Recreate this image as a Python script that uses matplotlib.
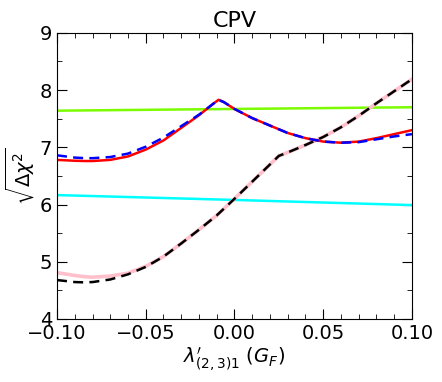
import numpy as np
import matplotlib
matplotlib.use('Agg')
import matplotlib.pyplot as plt
from matplotlib.ticker import MultipleLocator

# values
x_red = [-0.100, -0.090, -0.084, -0.080, -0.070, -0.060, -0.050, -0.040, -0.030, -0.020, -0.012,
         -0.009, -0.006, 0.000, 0.010, 0.020, 0.030, 0.040, 0.050, 0.060, 0.070, 0.080, 0.090, 0.100]
y_red = [6.78, 6.765, 6.76, 6.76, 6.78, 6.84, 6.96, 7.12, 7.34, 7.56, 7.76,
         7.83, 7.79, 7.67, 7.51, 7.38, 7.25, 7.16, 7.10, 7.08, 7.10, 7.16, 7.23, 7.30]
y_blue = [6.86, 6.82, 6.81, 6.81, 6.83, 6.89, 7.01, 7.17, 7.37, 7.57, 7.76,
          7.83, 7.79, 7.67, 7.51, 7.38, 7.25, 7.16, 7.10, 7.08, 7.09, 7.14, 7.19, 7.23]

x_black = [-0.100, -0.090, -0.085, -0.080, -0.070, -0.060, -0.050, -0.040, -0.030, -0.020, -0.010,
           0.000, 0.010, 0.020, 0.025, 0.030, 0.040, 0.050, 0.060, 0.070, 0.080, 0.090, 0.100]
y_black = [4.68, 4.645, 4.64, 4.645, 4.69, 4.78, 4.91, 5.09, 5.32, 5.56, 5.81,
           6.10, 6.40, 6.70, 6.85, 6.91, 7.04, 7.18, 7.35, 7.55, 7.77, 7.98, 8.19]
y_pink = [4.81, 4.76, 4.74, 4.73, 4.75, 4.80, 4.92, 5.09, 5.32, 5.56, 5.81,
          6.10, 6.40, 6.70, 6.85, 6.91, 7.04, 7.18, 7.35, 7.55, 7.77, 7.98, 8.19]

x_flat = [-0.100, 0.000, 0.100]
y_green = [7.64, 7.67, 7.70]
y_cyan = [6.165, 6.08, 5.99]

fig = plt.figure(figsize=(4.42, 3.82), dpi=100)
ax = fig.add_axes([0.129, 0.165, 0.803, 0.749])

ax.plot(x_flat, y_green, color='lawngreen', lw=1.8)
ax.plot(x_flat, y_cyan, color='cyan', lw=1.8)
ax.plot(x_black, y_pink, color='pink', lw=2.6)
ax.plot(x_black, y_black, color='black', lw=1.8, ls='--', dashes=(4, 2.5))
ax.plot(x_red, y_red, color='red', lw=1.8)
ax.plot(x_red, y_blue, color='blue', lw=1.8, ls='--', dashes=(4, 2.5))

ax.set_xlim(-0.1, 0.1)
ax.set_ylim(4, 9)
ax.xaxis.set_major_locator(MultipleLocator(0.05))
ax.xaxis.set_minor_locator(MultipleLocator(0.01))
ax.yaxis.set_major_locator(MultipleLocator(1))
ax.yaxis.set_minor_locator(MultipleLocator(0.5))
ax.tick_params(which='both', direction='in', top=True, right=True, labelsize=14)
ax.tick_params(which='major', length=7)
ax.tick_params(which='minor', length=3.5)

ax.set_title('CPV', fontsize=16, pad=4)
ax.set_xlabel(r"$\lambda^{\prime}_{(2,3)1}\ (G_F)$", fontsize=14, labelpad=2)
ax.set_ylabel(r'$\sqrt{\Delta\chi^2}$', fontsize=14, labelpad=2)

fig.savefig('out.png', dpi=100)
